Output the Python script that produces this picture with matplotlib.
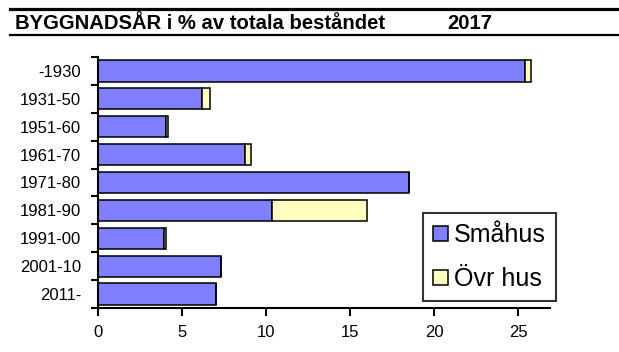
import matplotlib
matplotlib.use("Agg")
import matplotlib.pyplot as plt
from matplotlib.patches import Patch
import numpy as np

plt.rcParams['font.family'] = ['Liberation Sans', 'DejaVu Sans']

periods = ["-1930", "1931-50", "1951-60", "1961-70", "1971-80",
           "1981-90", "1991-00", "2001-10", "2011-"]
smahus = [25.4, 6.2, 4.05, 8.75, 18.5, 10.35, 3.95, 7.3, 7.0]
ovr_hus = [0.35, 0.45, 0.1, 0.35, 0.0, 5.65, 0.1, 0.0, 0.0]
x_ticks = [0, 5, 10, 15, 20, 25]

col_small = "#8080FF"
col_other = "#FFFFC0"

fig = plt.figure(figsize=(6.19, 3.52), dpi=100)
ax = fig.add_axes([98/619, 1 - 308/352, (550 - 98)/619, (308 - 57)/352])

y = np.arange(len(periods))
ax.barh(y, smahus, height=0.76, color=col_small, edgecolor="black", linewidth=1.1)
ax.barh(y, ovr_hus, left=smahus, height=0.76, color=col_other, edgecolor="black", linewidth=1.1)

ax.set_ylim(len(periods) - 0.5, -0.5)
ax.set_xlim(0, 26.9)

# category boundaries carry the tick marks, labels sit at the centres
ax.set_yticks(np.arange(-0.5, len(periods), 1.0))
ax.set_yticklabels([])
ax.set_yticks(y, minor=True)
ax.set_yticklabels(periods, minor=True, fontsize=12)
ax.tick_params(axis="y", which="major", direction="out", length=5, width=1.5)
ax.tick_params(axis="y", which="minor", length=0, pad=12)

ax.set_xticks(x_ticks)
ax.set_xticklabels([str(v) for v in x_ticks], fontsize=12)
ax.tick_params(axis="x", direction="out", length=6, width=1.5, pad=6)

for s in ("top", "right"):
    ax.spines[s].set_visible(False)
for s in ("left", "bottom"):
    ax.spines[s].set_linewidth(1.5)

handles = [Patch(facecolor=col_small, edgecolor="black", linewidth=1.1, label="Småhus"),
           Patch(facecolor=col_other, edgecolor="black", linewidth=1.1, label="Övr hus")]
leg = fig.legend(handles=handles, loc="lower left",
                 bbox_to_anchor=(423/619, 1 - 301/352, (556 - 423)/619, (301 - 214)/352),
                 mode="expand", fontsize=18, frameon=True, fancybox=False,
                 handlelength=0.6, handleheight=0.55, handletextpad=0.25,
                 labelspacing=0.8, borderpad=0.4, borderaxespad=0)
leg.get_frame().set_edgecolor("black")
leg.get_frame().set_linewidth(1.5)

# header rules and title
fig.add_artist(plt.Line2D([10/619, 1], [1 - 8.7/352] * 2, color="black", linewidth=2.3))
fig.add_artist(plt.Line2D([10/619, 1], [1 - 35/352] * 2, color="black", linewidth=1.6))
fig.text(15/619, 1 - 29/352, "BYGGNADSÅR i % av totala beståndet",
         fontsize=14.6, fontweight="bold", va="baseline", ha="left")
fig.text(447/619, 1 - 29/352, "2017",
         fontsize=14.6, fontweight="bold", va="baseline", ha="left")

fig.savefig("out.png", dpi=100)
